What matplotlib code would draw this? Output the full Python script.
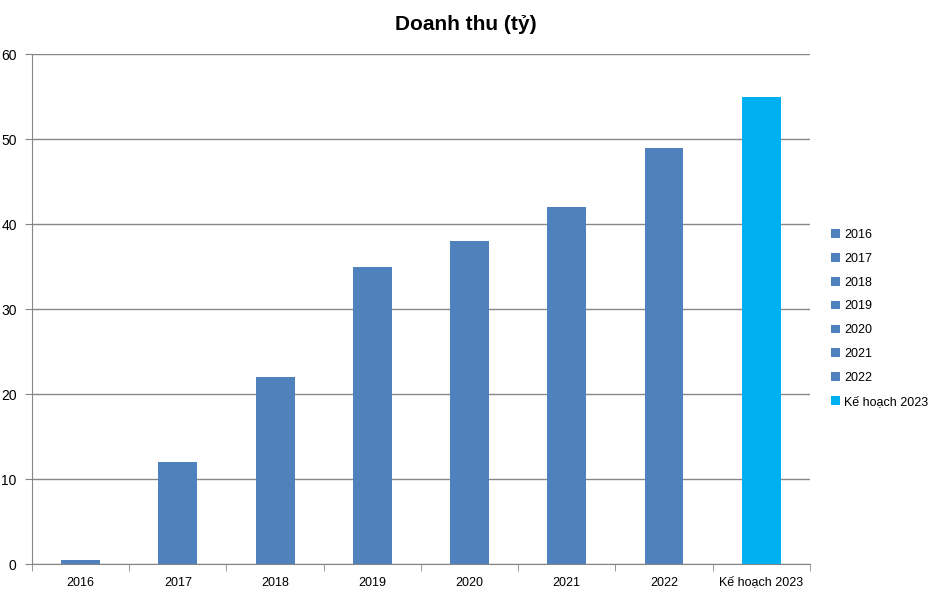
import matplotlib.pyplot as plt

plt.rcParams['font.family'] = ['Liberation Sans', 'DejaVu Sans']

categories = ['2016', '2017', '2018', '2019', '2020', '2021', '2022', 'Kế hoạch 2023']
values = [0.5, 12, 22, 35, 38, 42, 49, 55]
colors = ['#4F81BD'] * 7 + ['#00B0F0']

fig = plt.figure(figsize=(9.32, 5.94), dpi=100)
ax = fig.add_axes([0.0343, 0.0505, 0.8347, 0.8585])

x = range(len(categories))
for i, (cat, val, col) in enumerate(zip(categories, values, colors)):
    ax.bar(i, val, width=0.4, color=col, label=cat, zorder=3)

ax.set_xlim(-0.5, len(categories) - 0.5)
ax.set_ylim(0, 60)
ax.set_yticks(range(0, 61, 10))
ax.yaxis.grid(True, color='#868686', linewidth=1, zorder=0)

# category labels centred, tick marks between categories
ax.set_xticks(list(x))
ax.set_xticklabels(categories, fontsize=9)
ax.set_xticks([i - 0.5 for i in range(len(categories) + 1)], minor=True)
ax.tick_params(axis='x', which='major', length=0, pad=9)
ax.tick_params(axis='x', which='minor', length=5, color='#868686', direction='out')
ax.tick_params(axis='y', labelsize=10, length=5, color='#868686', direction='out', pad=6)

for side in ['top', 'right']:
    ax.spines[side].set_visible(False)
for side in ['left', 'bottom']:
    ax.spines[side].set_color('#868686')

fig.suptitle('Doanh thu (tỷ)', fontsize=15, fontweight='bold', y=0.975)

fig.legend(loc='center left', bbox_to_anchor=(0.88, 0.464), frameon=False,
           fontsize=9, handlelength=0.7, handleheight=0.7, handletextpad=0.3,
           labelspacing=0.95)

fig.savefig('out.png', dpi=100)
